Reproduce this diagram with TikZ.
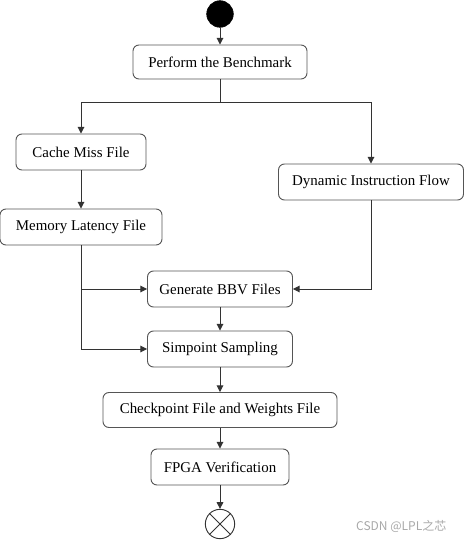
\documentclass[tikz,border=0pt]{standalone}
\usepackage{fontspec}
\setmainfont{Liberation Serif}
\newfontfamily\boxfont{Liberation Serif}
\newfontfamily\cjkfont{Noto Sans CJK SC}
\usepackage{xcolor}
\usetikzlibrary{positioning, arrows.meta}
\definecolor{linegray}{HTML}{333333}
\definecolor{boxgray}{HTML}{555555}
\definecolor{markgray}{HTML}{A8A8A8}

\tikzset{
    actbox/.style={draw=boxgray, fill=white, rounded corners=4.5pt, line width=0.7pt,
                   minimum height=27pt, inner xsep=4pt, font=\boxfont\fontsize{11.2}{13}\selectfont},
    flow/.style={draw=linegray, line width=0.7pt, -{Triangle[length=5pt, width=5pt]}},
    plain/.style={draw=linegray, line width=0.7pt}
}

\begin{document}
\begin{tikzpicture}[x=0.75pt, y=-0.75pt]
    \useasboundingbox (0,0) rectangle (465,542);
    \node[circle, fill=black, draw=black, minimum size=20pt, inner sep=0pt] (start) at (220,14) {};
    \node[actbox, minimum width=130.5pt, minimum height=25.5pt] (perform) at (220,62) {Perform the Benchmark};
    \coordinate (fork) at (220,102);
    \node[actbox, minimum width=97.5pt] (cache) at (81,152) {Cache Miss File};
    \node[actbox, minimum width=121.5pt] (memory) at (81,227) {Memory Latency File};
    \node[actbox, minimum width=138.75pt] (dynamic) at (371,182) {Dynamic Instruction Flow};
    \node[actbox, minimum width=108.75pt] (bbv) at (220,289) {Generate BBV Files};
    \node[actbox, minimum width=108.75pt] (simpoint) at (220,349) {Simpoint Sampling};
    \node[actbox, minimum width=175.5pt, minimum height=26.25pt] (checkpoint) at (220,410) {Checkpoint File and Weights File};
    \node[actbox, minimum width=103.5pt] (fpga) at (220,467) {FPGA Verification};
    \node[circle, draw=linegray, line width=0.7pt, minimum size=22pt, inner sep=0pt] (finish) at (220,524) {};
    \draw[plain] (finish.north west) -- (finish.south east);
    \draw[plain] (finish.north east) -- (finish.south west);

    \draw[flow] (start) -- (perform);
    \draw[plain] (perform) -- (fork);
    \draw[flow] (fork) -| (cache);
    \draw[flow] (fork) -| (dynamic);
    \draw[flow] (cache) -- (memory);
    \draw[flow] (memory.south) |- (bbv.west);
    \draw[flow] (memory.south) |- (simpoint.west);
    \draw[flow] (dynamic.south) |- (bbv.east);
    \draw[flow] (bbv) -- (simpoint);
    \draw[flow] (simpoint) -- (checkpoint);
    \draw[flow] (checkpoint) -- (fpga);
    \draw[flow] (fpga) -- (finish);

    \node[anchor=east, text=markgray, font=\cjkfont\fontsize{9}{11}\selectfont] (mark) at (451,526) {CSDN @LPL之芯};
\end{tikzpicture}
\end{document}
